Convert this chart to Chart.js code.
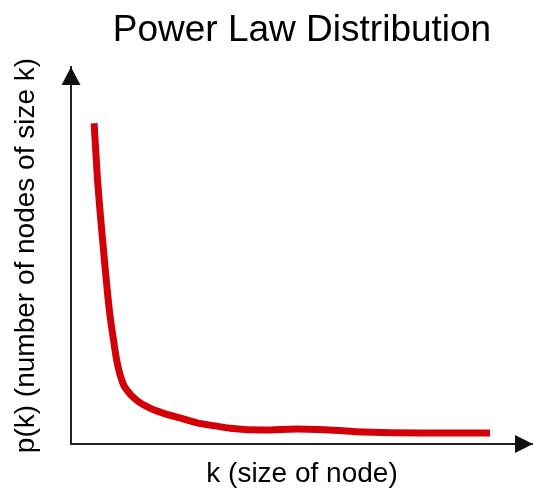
<!DOCTYPE html>
<html>
<head>
	<meta charset="utf-8" />
	<title>Power Law Distribution</title>
	<script src="https://cdn.jsdelivr.net/npm/chart.js@4/dist/chart.umd.min.js"></script>
	<style>
		html, body { margin: 0; padding: 0; background: #fff; }
		#wrap { width: 533px; height: 489px; }
	</style>
</head>
<body>

<div id="wrap"><canvas id="powerChart"></canvas></div>

<script>
// values (k on 0..100, p on 0..100, no units shown)
var kValues = [5.0, 5.7, 6.9, 8.3, 9.3, 10.0, 11.2, 12.1, 14.1, 17.1, 19.9, 23.6, 27.3, 31.2, 34.4, 41.6, 48.9, 56.1, 63.2, 75.5, 90.7]
var pValues = [85.1, 70.9, 53.3, 35.5, 26.8, 21.5, 16.2, 14.3, 11.7, 9.5, 8.2, 6.9, 5.6, 4.8, 4.2, 3.7, 4.0, 3.7, 3.2, 2.9, 2.9]

var chartTitle = "Power Law Distribution"
var xTitle = "k (size of node)"
var yTitle = "p(k) (number of nodes of size k)"

var points = []
for (var i = 0; i < kValues.length; i++) {
	points.push({x: kValues[i], y: pValues[i]})
}

// arrow heads at the ends of both axes
var axisArrows = {
	id: "axisArrows",
	afterDraw: function(chart) {
		var ctx = chart.ctx
		var a = chart.chartArea
		ctx.save()
		ctx.fillStyle = "#111"
		// up arrow on y axis
		ctx.beginPath()
		ctx.moveTo(a.left, a.top)
		ctx.lineTo(a.left - 9.5, a.top + 18)
		ctx.lineTo(a.left + 9.5, a.top + 18)
		ctx.closePath()
		ctx.fill()
		// right arrow on x axis
		ctx.beginPath()
		ctx.moveTo(a.right, a.bottom)
		ctx.lineTo(a.right - 18, a.bottom - 9)
		ctx.lineTo(a.right - 18, a.bottom + 9)
		ctx.closePath()
		ctx.fill()
		ctx.restore()
	}
}

var font = "'Liberation Sans', Arial, sans-serif"

new Chart("powerChart", {
	type: "scatter",
	data: {
		datasets: [{
			data: points,
			showLine: true,
			fill: false,
			borderColor: "rgb(210,0,8)",
			borderWidth: 7,
			borderCapStyle: "butt",
			pointRadius: 0,
			pointHoverRadius: 0,
			tension: 0.4,
			cubicInterpolationMode: "monotone"
		}]
	},
	options: {
		responsive: true,
		maintainAspectRatio: false,
		animation: false,
		layout: {padding: {left: 0, right: 0, top: 0, bottom: 0}},
		plugins: {
			legend: {display: false},
			tooltip: {enabled: false},
			title: {
				display: true,
				text: chartTitle,
				fullSize: false,
				color: "#000",
				font: {family: font, size: 37, weight: "normal", lineHeight: 1.0},
				padding: {top: 12.5, bottom: 17.5}
			}
		},
		scales: {
			x: {
				type: "linear",
				min: 0,
				max: 100,
				grid: {display: false, drawTicks: false},
				border: {display: true, color: "#222", width: 2},
				ticks: {display: false},
				title: {
					display: true,
					text: xTitle,
					color: "#000",
					font: {family: font, size: 28, lineHeight: 1.0},
					padding: {top: 16.5, bottom: 0.5}
				}
			},
			y: {
				type: "linear",
				min: 0,
				max: 100,
				grid: {display: false, drawTicks: false},
				border: {display: true, color: "#222", width: 2},
				ticks: {display: false},
				title: {
					display: true,
					text: yTitle,
					color: "#000",
					font: {family: font, size: 28, lineHeight: 1.0},
					padding: {top: 12, bottom: 31}
				}
			}
		}
	},
	plugins: [axisArrows]
})
</script>

</body>
</html>
